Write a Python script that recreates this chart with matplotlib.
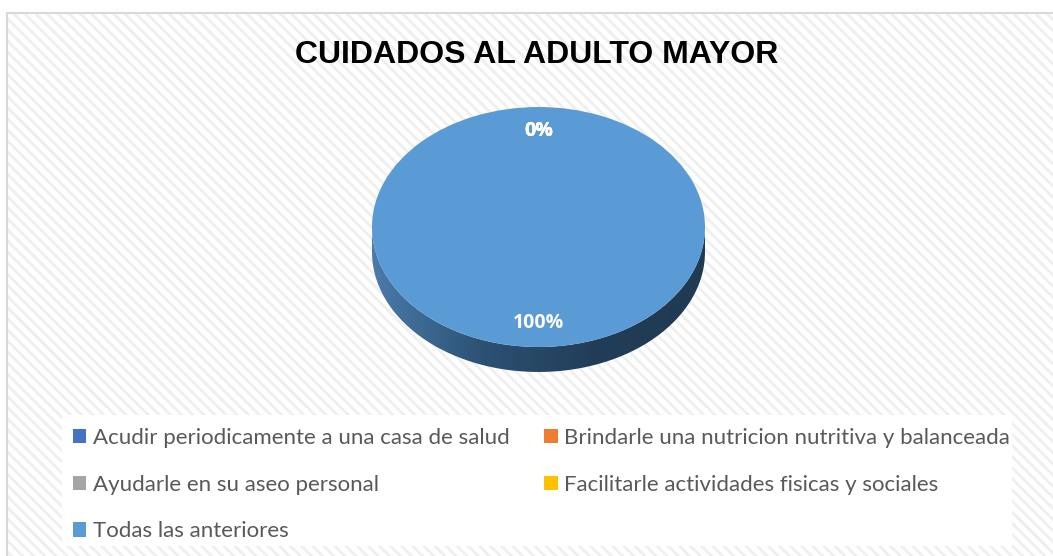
import numpy as np
import matplotlib.pyplot as plt
from matplotlib.patches import Rectangle, PathPatch
from matplotlib.path import Path
from matplotlib.colors import LinearSegmentedColormap

# data
categories = [
    "Acudir periodicamente a una casa de salud",
    "Brindarle una nutricion nutritiva y balanceada",
    "Ayudarle en su aseo personal",
    "Facilitarle actividades fisicas y sociales",
    "Todas las anteriores",
]
values = [0, 0, 0, 0, 100]
colors = ["#4472c4", "#ed7d31", "#a5a5a5", "#ffc000", "#5b9bd5"]
title = "CUIDADOS AL ADULTO MAYOR"

W, H = 1053, 556
fig = plt.figure(figsize=(W / 100, H / 100), dpi=100)
fig.patch.set_facecolor("white")

plt.rcParams["hatch.linewidth"] = 2.0

# chart area background with diagonal stripes + border
fig.patches.append(Rectangle((7 / W, -0.1), 1.2, 1 - 13 / H + 0.1, transform=fig.transFigure,
                             facecolor="white", edgecolor="#efefef", hatch="\\\\\\", linewidth=0, zorder=0))
fig.patches.append(Rectangle((7 / W, -0.1), 1.2, 1 - 13 / H + 0.1, transform=fig.transFigure,
                             facecolor="none", edgecolor="#d9d9d9", linewidth=1.5, zorder=1))
# legend area (white)
fig.patches.append(Rectangle((62 / W, 1 - 546 / H), (1012 - 62) / W, (546 - 415) / H,
                             transform=fig.transFigure, facecolor="white", edgecolor="none", zorder=1))

fig.text(537 / W, 1 - 55 / H, title, ha="center", va="center", fontsize=23,
         fontweight="bold", family="Liberation Sans", zorder=3)

# pie (ellipse top face + 3d side)
cx0, cx1 = 372, 705
cy_top, cy_face_bot, cy_bot = 107, 347, 372
ry = (cy_face_bot - cy_top) / 2
d = (cy_bot - cy_face_bot) / ry
ax = fig.add_axes([cx0 / W, 1 - cy_bot / H, (cx1 - cx0) / W, (cy_bot - cy_top) / H])
ax.set_zorder(2)
ax.axis("off")

# side of the disk: gradient clipped to path
t = np.linspace(np.pi, 2 * np.pi, 200)
xs = np.concatenate([np.cos(t), np.cos(t[::-1])])
ys = np.concatenate([np.sin(t) - d, np.sin(t[::-1])])
side = PathPatch(Path(np.column_stack([xs, ys])), facecolor="none", edgecolor="none")
ax.add_patch(side)
grad = np.linspace(0, 1, 256).reshape(1, -1)
cmap = LinearSegmentedColormap.from_list("side", ["#4a7bab", "#2c5173", "#223d58", "#213a53"])
im = ax.imshow(grad, extent=[-1, 1, -1 - d, 0], aspect="auto", cmap=cmap, zorder=1)
im.set_clip_path(side)

wedges, texts, autotexts = ax.pie(values, colors=colors, startangle=90, counterclock=False,
                                  autopct="%1.0f%%", pctdistance=0.8, radius=1,
                                  wedgeprops=dict(linewidth=0))
for w in wedges:
    w.set_zorder(2)
for a in autotexts:
    a.set_color("white")
    a.set_fontsize(14)
    a.set_fontweight("bold")
    a.set_family("Open Sans")
    a.set_zorder(3)
ax.set_xlim(-1, 1)
ax.set_ylim(-1 - d, 1)
ax.set_aspect("auto")

order = [0, 2, 4, 1, 3]
leg = fig.legend([wedges[i] for i in order], [categories[i] for i in order],
                 loc="upper left", bbox_to_anchor=(73 / W, 1 - 428 / H), ncol=2,
                 frameon=False, prop=dict(family="Lato", size=16),
                 handlelength=0.6, handleheight=0.6, handletextpad=0.3,
                 columnspacing=1.55, labelspacing=1.2, borderpad=0, borderaxespad=0)
leg.set_zorder(3)
for txt in leg.get_texts():
    txt.set_color("#595959")

fig.savefig("out.png", dpi=100)
